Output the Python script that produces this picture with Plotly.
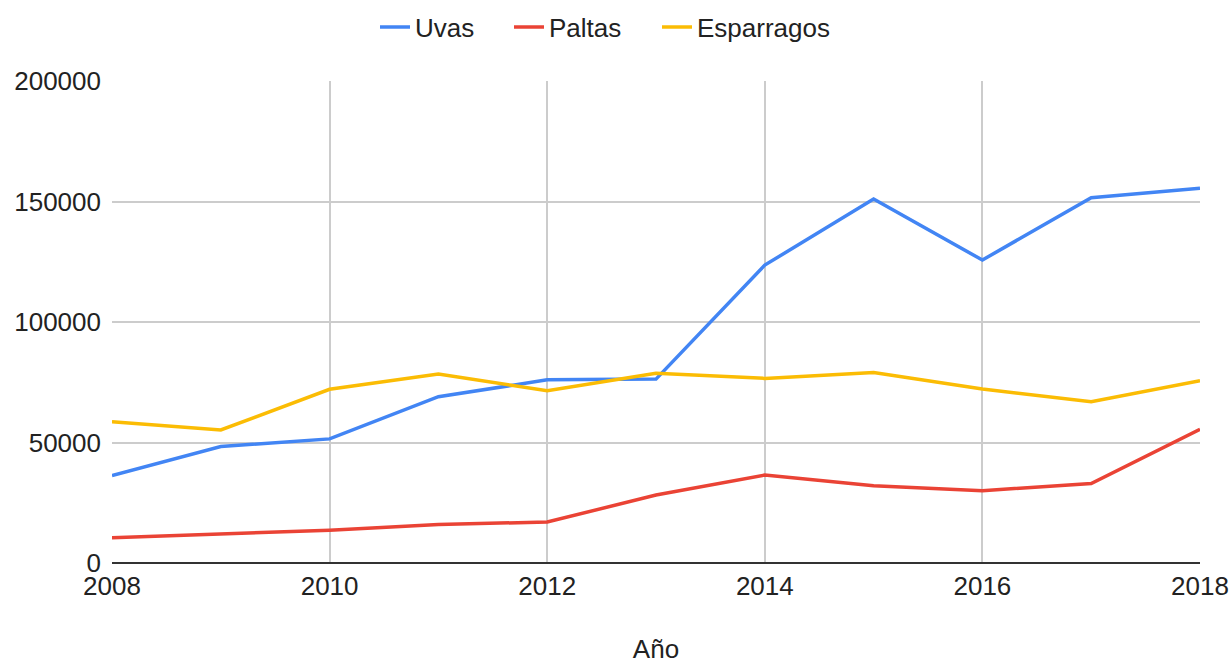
import plotly.graph_objects as go

years = [2008, 2009, 2010, 2011, 2012, 2013, 2014, 2015, 2016, 2017, 2018]
uvas = [36300, 48300, 51500, 69000, 76000, 76300, 123600, 151000, 125700, 151600, 155500]
paltas = [10500, 12000, 13600, 16000, 17000, 28200, 36500, 32100, 30000, 33000, 55500]
esparragos = [58600, 55200, 72100, 78400, 71500, 78700, 76600, 79000, 72200, 66900, 75600]
x_ticks = [2008, 2010, 2012, 2014, 2016, 2018]
y_ticks = [0, 50000, 100000, 150000, 200000]

series = [("Uvas", uvas, "#4285F4", "legend"),
          ("Paltas", paltas, "#EA4335", "legend2"),
          ("Esparragos", esparragos, "#FBBC04", "legend3")]
legend_x = [375, 509, 657]

font = "Liberation Sans, Arial, sans-serif"
txt = "#222222"

fig = go.Figure()
for name, vals, color, lg in series:
    fig.add_trace(go.Scatter(x=years, y=vals, name=name, mode="lines", legend=lg,
                             showlegend=True, line=dict(color=color, width=3.5)))

W, H = 1232, 664
legend_common = dict(orientation="h", xanchor="left", xref="container",
                     y=1 - 27 / H, yanchor="middle", yref="container",
                     font=dict(size=26, color=txt), itemwidth=30,
                     bgcolor="rgba(0,0,0,0)")
fig.update_layout(
    width=W, height=H, showlegend=True,
    paper_bgcolor="white", plot_bgcolor="white",
    margin=dict(l=112, r=32, t=81, b=101, autoexpand=False),
    font=dict(family=font, size=26, color=txt),
    legend=dict(x=legend_x[0] / W, **legend_common),
    legend2=dict(x=legend_x[1] / W, **legend_common),
    legend3=dict(x=legend_x[2] / W, **legend_common),
    xaxis=dict(range=[2008, 2018], tickvals=x_ticks, automargin=False,
               showgrid=True, gridcolor="#cccccc", gridwidth=1.5, zeroline=False,
               showline=False, ticks="", tickfont=dict(size=26, color=txt),
               ticklabelstandoff=5, ticklabeloverflow="allow",
               title=dict(text="Año", font=dict(size=26, color=txt), standoff=49)),
    yaxis=dict(range=[0, 200000], tickvals=y_ticks, automargin=False,
               ticktext=[str(v) for v in y_ticks],
               showgrid=True, gridcolor="#cccccc", gridwidth=1.5,
               zeroline=True, zerolinecolor="#333333", zerolinewidth=2,
               showline=False, ticks="", tickfont=dict(size=26, color=txt),
               ticklabelstandoff=10),
)
fig.write_html("out.html", config={"displayModeBar": False},
               post_script="document.body.style.margin='0';document.body.style.overflow='hidden';")
